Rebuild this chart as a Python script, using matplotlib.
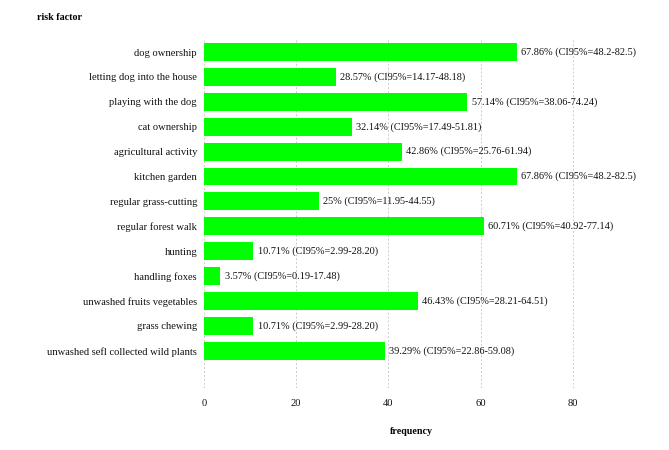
import matplotlib.pyplot as plt
import numpy as np

plt.rcParams['font.family'] = ['Liberation Serif', 'DejaVu Serif']

factors = ['dog ownership', 'letting dog into the house', 'playing with the dog',
           'cat ownership', 'agricultural activity', 'kitchen garden',
           'regular grass-cutting', 'regular forest walk', 'hunting',
           'handling foxes', 'unwashed fruits vegetables', 'grass chewing',
           'unwashed sefl collected wild plants']
freq = [67.86, 28.57, 57.14, 32.14, 42.86, 67.86, 25, 60.71, 10.71, 3.57, 46.43, 10.71, 39.29]
ci = ['48.2-82.5', '14.17-48.18', '38.06-74.24', '17.49-51.81', '25.76-61.94',
      '48.2-82.5', '11.95-44.55', '40.92-77.14', '2.99-28.20', '0.19-17.48',
      '28.21-64.51', '2.99-28.20', '22.86-59.08']

fig = plt.figure(figsize=(6.69, 4.5), dpi=100)
ax = fig.add_axes([0.305, 0.138, 0.62, 0.773])

y = np.arange(len(factors))
ax.barh(y, freq, height=0.72, color='#00ff00', zorder=2)
for yi, f, c in zip(y, freq, ci):
    ax.text(f + 0.9, yi, f"{f:g}% (CI95%={c})", va='center', ha='left', fontsize=7.4, color='#111111')

ax.set_yticks(y)
ax.set_yticklabels(factors, fontsize=7.6, color='#111111')
ax.set_ylim(len(factors) - 1 + 1.49, -0.48)
ax.set_xlim(0, 90)
ax.set_xticks([0, 20, 40, 60, 80])
ax.tick_params(axis='x', labelsize=7.6, colors='#111111', length=0, pad=8)
ax.tick_params(axis='y', length=0, pad=5)
ax.grid(axis='x', color='#cccccc', linestyle=(0, (2, 2)), linewidth=0.7, zorder=0)
for s in ax.spines.values():
    s.set_visible(False)

ax.set_xlabel('frequency', fontsize=7.2, fontweight='bold', labelpad=14)
fig.text(0.055, 0.962, 'risk factor', fontsize=7.2, fontweight='bold', ha='left', va='center')

fig.savefig('out.png', dpi=100)
